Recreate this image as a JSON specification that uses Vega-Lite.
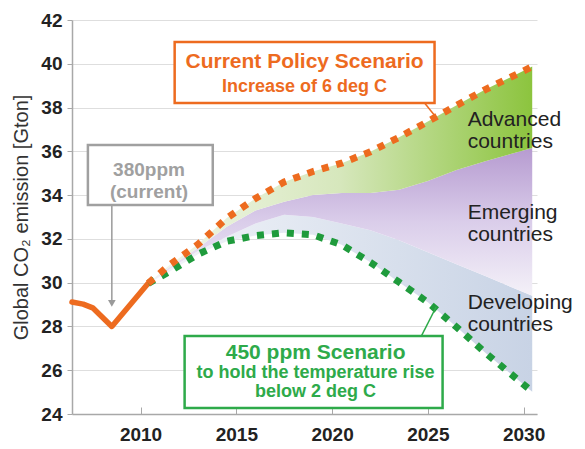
{
  "$schema": "https://vega.github.io/schema/vega-lite/v6.json",
  "width": 465,
  "height": 394,
  "autosize": "none",
  "padding": {"left": 72, "top": 20, "right": 48, "bottom": 35},
  "background": "white",
  "data": {"values": [{}]},
  "config": {
    "font": "Liberation Sans",
    "view": {"stroke": null},
    "axis": {
      "labelFont": "Liberation Sans", "labelFontWeight": "bold", "labelFontSize": 19, "labelColor": "#222",
      "domainColor": "#a8a8a8", "tickColor": "#a8a8a8", "gridColor": "#dedede",
      "titleFont": "Liberation Sans", "titleFontWeight": "normal", "titleFontSize": 20, "titleColor": "#333"
    },
    "axisX": {"grid": false, "tickSize": -7, "labelPadding": 18, "domainWidth": 1.5},
    "axisY": {"tickSize": 5, "labelPadding": 5, "titlePadding": 9, "domainWidth": 1.5}
  },
  "datasets": {
    "history": [
      {"year": 2006.42, "emission": 29.12},
      {"year": 2007.0, "emission": 29.02},
      {"year": 2007.5, "emission": 28.85},
      {"year": 2008.5, "emission": 28.0},
      {"year": 2010.4, "emission": 29.97}
    ],
    "scenarios": [
      {"year": 2010.4, "low450": 29.97, "developing_top": 29.97, "emerging_top": 29.97, "policy": 29.97},
      {"year": 2011.5, "low450": 30.5, "developing_top": 30.6, "emerging_top": 30.7, "policy": 30.8},
      {"year": 2013.0, "low450": 31.3, "developing_top": 31.45, "emerging_top": 31.6, "policy": 31.75},
      {"year": 2014.5, "low450": 31.89, "developing_top": 32.1, "emerging_top": 32.55, "policy": 32.95},
      {"year": 2016.0, "low450": 32.15, "developing_top": 32.7, "emerging_top": 33.3, "policy": 33.85},
      {"year": 2017.5, "low450": 32.28, "developing_top": 33.1, "emerging_top": 33.7, "policy": 34.6},
      {"year": 2019.0, "low450": 32.19, "developing_top": 33.0, "emerging_top": 34.0, "policy": 35.08},
      {"year": 2020.5, "low450": 31.73, "developing_top": 32.7, "emerging_top": 34.1, "policy": 35.46},
      {"year": 2022.0, "low450": 30.93, "developing_top": 32.4, "emerging_top": 34.1, "policy": 35.98},
      {"year": 2023.5, "low450": 30.02, "developing_top": 31.94, "emerging_top": 34.25, "policy": 36.64},
      {"year": 2025.0, "low450": 29.1, "developing_top": 31.39, "emerging_top": 34.65, "policy": 37.36},
      {"year": 2026.5, "low450": 27.97, "developing_top": 30.84, "emerging_top": 35.15, "policy": 38.1},
      {"year": 2028.0, "low450": 26.8, "developing_top": 30.3, "emerging_top": 35.55, "policy": 38.82},
      {"year": 2030.45, "low450": 25.02, "developing_top": 29.4, "emerging_top": 36.15, "policy": 39.87}
    ]
  },
  "layer": [
    {
      "data": {"name": "scenarios"},
      "mark": {"type": "area", "color": {"gradient": "linear", "x1": 0, "y1": 0, "x2": 1, "y2": 0, "stops": [{"offset": 0, "color": "#f3f5f9"}, {"offset": 1, "color": "#c8d3e5"}]}},
      "encoding": {
        "x": {"field": "year", "type": "quantitative", "title": null, "scale": {"domain": [2006.42, 2030.7], "nice": false, "zero": false}, "axis": {"values": [2010, 2015, 2020, 2025, 2030], "format": "d"}},
        "y": {"field": "low450", "type": "quantitative", "title": "Global CO₂ emission [Gton]", "scale": {"domain": [24, 42], "nice": false, "zero": false}, "axis": {"values": [24, 26, 28, 30, 32, 34, 36, 38, 40, 42]}},
        "y2": {"field": "developing_top"}
      }
    },
    {
      "data": {"name": "scenarios"},
      "mark": {"type": "area", "color": {"gradient": "linear", "x1": 0, "y1": 0, "x2": 0, "y2": 1, "stops": [{"offset": 0, "color": "#b69bd0"}, {"offset": 0.5, "color": "#dacdea"}, {"offset": 1, "color": "#f4f1f8"}]}},
      "encoding": {
        "x": {"field": "year", "type": "quantitative", "title": null},
        "y": {"field": "developing_top", "type": "quantitative", "title": "Global CO₂ emission [Gton]"},
        "y2": {"field": "emerging_top"}
      }
    },
    {
      "data": {"name": "scenarios"},
      "mark": {"type": "area", "color": {"gradient": "linear", "x1": 0, "y1": 0, "x2": 1, "y2": 0, "stops": [{"offset": 0, "color": "#f3f7ec"}, {"offset": 0.5, "color": "#d6e7bc"}, {"offset": 1, "color": "#8cc43e"}]}},
      "encoding": {
        "x": {"field": "year", "type": "quantitative", "title": null},
        "y": {"field": "emerging_top", "type": "quantitative", "title": "Global CO₂ emission [Gton]"},
        "y2": {"field": "policy"}
      }
    },
    {
      "data": {"name": "history"},
      "mark": {"type": "line", "color": "#ed6b1f", "strokeWidth": 5.5, "strokeCap": "round", "strokeJoin": "round"},
      "encoding": {
        "x": {"field": "year", "type": "quantitative", "title": null},
        "y": {"field": "emission", "type": "quantitative", "title": "Global CO₂ emission [Gton]"}
      }
    },
    {
      "data": {"name": "scenarios"},
      "mark": {"type": "line", "color": "#1f9b3c", "strokeWidth": 7, "strokeDash": [7, 8], "strokeCap": "butt"},
      "encoding": {
        "x": {"field": "year", "type": "quantitative", "title": null},
        "y": {"field": "low450", "type": "quantitative", "title": "Global CO₂ emission [Gton]"}
      }
    },
    {
      "data": {"name": "scenarios"},
      "mark": {"type": "line", "color": "#ed6b1f", "strokeWidth": 7, "strokeDash": [7, 8], "strokeCap": "butt"},
      "encoding": {
        "x": {"field": "year", "type": "quantitative", "title": null},
        "y": {"field": "policy", "type": "quantitative", "title": "Global CO₂ emission [Gton]"}
      }
    },
    {
      "mark": {"type": "rule", "color": "#ed6b1f", "strokeWidth": 1.5},
      "encoding": {"x": {"datum": 2024.83, "type": "quantitative"}, "x2": {"datum": 2025.46}, "y": {"datum": 38.21, "type": "quantitative"}, "y2": {"datum": 37.52}}
    },
    {
      "mark": {"type": "rule", "color": "#2eaa4a", "strokeWidth": 1.5},
      "encoding": {"x": {"datum": 2024.66, "type": "quantitative"}, "x2": {"datum": 2025.44}, "y": {"datum": 27.56, "type": "quantitative"}, "y2": {"datum": 28.9}}
    },
    {
      "mark": {"type": "rule", "color": "#9a9a9a", "strokeWidth": 1.5},
      "encoding": {"x": {"datum": 2008.5, "type": "quantitative"}, "y": {"datum": 33.55, "type": "quantitative"}, "y2": {"datum": 29.2}}
    },
    {
      "mark": {"type": "point", "shape": "triangle-down", "filled": true, "color": "#9a9a9a", "size": 60, "opacity": 1},
      "encoding": {"x": {"datum": 2008.5, "type": "quantitative"}, "y": {"datum": 29.05, "type": "quantitative"}}
    },
    {
      "mark": {"type": "rect", "fill": "white", "stroke": "#ed6b1f", "strokeWidth": 2.5},
      "encoding": {"x": {"datum": 2011.78, "type": "quantitative"}, "x2": {"datum": 2025.35}, "y": {"datum": 40.99, "type": "quantitative"}, "y2": {"datum": 38.21}}
    },
    {
      "mark": {"type": "rect", "fill": "white", "stroke": "#2eaa4a", "strokeWidth": 2.5},
      "encoding": {"x": {"datum": 2012.3, "type": "quantitative"}, "x2": {"datum": 2025.77}, "y": {"datum": 27.56, "type": "quantitative"}, "y2": {"datum": 24.27}}
    },
    {
      "mark": {"type": "rect", "fill": "white", "stroke": "#a0a0a0", "strokeWidth": 2.5},
      "encoding": {"x": {"datum": 2007.25, "type": "quantitative"}, "x2": {"datum": 2013.77}, "y": {"datum": 36.29, "type": "quantitative"}, "y2": {"datum": 33.55}}
    },
    {
      "mark": {"type": "text", "text": "Current Policy Scenario", "fontSize": 21, "fontWeight": "bold", "color": "#ed6b1f", "align": "center", "baseline": "middle"},
      "encoding": {"x": {"datum": 2018.56, "type": "quantitative"}, "y": {"datum": 40.06, "type": "quantitative"}}
    },
    {
      "mark": {"type": "text", "text": "Increase of 6 deg C", "fontSize": 18, "fontWeight": "bold", "color": "#ed6b1f", "align": "center", "baseline": "middle"},
      "encoding": {"x": {"datum": 2018.56, "type": "quantitative"}, "y": {"datum": 38.92, "type": "quantitative"}}
    },
    {
      "mark": {"type": "text", "text": "450 ppm Scenario", "fontSize": 21, "fontWeight": "bold", "color": "#2eaa4a", "align": "center", "baseline": "middle"},
      "encoding": {"x": {"datum": 2019.14, "type": "quantitative"}, "y": {"datum": 26.79, "type": "quantitative"}}
    },
    {
      "mark": {"type": "text", "text": ["to hold the temperature rise", "below 2 deg C"], "fontSize": 18, "lineHeight": 19, "fontWeight": "bold", "color": "#2eaa4a", "align": "center", "baseline": "middle"},
      "encoding": {"x": {"datum": 2019.14, "type": "quantitative"}, "y": {"datum": 25.89, "type": "quantitative"}}
    },
    {
      "mark": {"type": "text", "text": ["380ppm", "(current)"], "fontSize": 19, "lineHeight": 22, "fontWeight": "bold", "color": "#a0a0a0", "align": "center", "baseline": "middle"},
      "encoding": {"x": {"datum": 2010.44, "type": "quantitative"}, "y": {"datum": 35.15, "type": "quantitative"}}
    },
    {
      "mark": {"type": "text", "text": ["Advanced", "countries"], "fontSize": 21, "lineHeight": 22, "color": "#222", "align": "left", "baseline": "middle"},
      "encoding": {"x": {"datum": 2027.08, "type": "quantitative"}, "y": {"datum": 37.43, "type": "quantitative"}}
    },
    {
      "mark": {"type": "text", "text": ["Emerging", "countries"], "fontSize": 21, "lineHeight": 22, "color": "#222", "align": "left", "baseline": "middle"},
      "encoding": {"x": {"datum": 2027.08, "type": "quantitative"}, "y": {"datum": 33.18, "type": "quantitative"}}
    },
    {
      "mark": {"type": "text", "text": ["Developing", "countries"], "fontSize": 21, "lineHeight": 22, "color": "#222", "align": "left", "baseline": "middle"},
      "encoding": {"x": {"datum": 2027.08, "type": "quantitative"}, "y": {"datum": 29.07, "type": "quantitative"}}
    }
  ]
}
